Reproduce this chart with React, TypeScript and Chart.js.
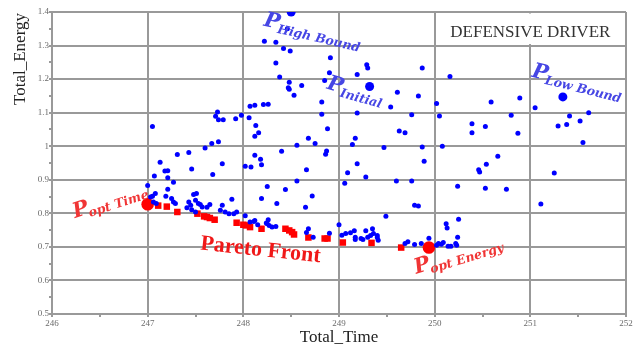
import React, { useEffect, useRef } from 'react';
import { Chart, registerables } from 'chart.js';

Chart.register(...registerables);

// ---------- data ----------
const blueX = [
  248.46, 248.22, 248.34, 248.42, 248.49, 248.91, 248.34, 248.90, 248.38, 248.85, 248.48, 248.61, 248.47, 248.48, 248.53, 248.82,
  249.29, 249.30, 249.19, 249.61, 249.83, 249.54, 249.19, 249.76, 249.87, 250.16, 250.02, 250.59, 250.89, 251.05, 251.61, 251.41,
  251.52, 251.38, 251.29, 251.55, 250.80, 250.87, 250.05, 250.39, 250.39, 250.53, 249.63, 249.69, 249.87, 250.08, 249.89, 250.66,
  250.54, 250.47, 250.46, 251.25, 250.24, 250.53, 250.75, 251.11, 250.12, 250.13, 250.25, 250.24,
  247.05, 247.73, 247.71, 247.74, 247.79, 247.92, 247.98, 248.07, 248.12, 248.21, 248.26, 248.06, 248.82, 248.13, 248.16, 248.12,
  248.88, 248.68, 248.75, 248.56, 248.40, 248.87, 248.86, 249.17, 249.14, 249.47, 247.74, 247.67, 247.60, 247.43, 247.31, 247.13,
  247.18, 247.21, 247.46, 247.07, 247.68, 247.78, 248.12, 248.18, 248.19, 248.02, 248.08, 248.66, 249.19, 249.09, 249.28, 249.06,
  249.60, 249.76, 249.79, 249.83, 249.49, 248.25, 248.19, 248.35, 248.44, 248.56, 248.72, 248.65, 247.88, 247.21, 247.27, 247.00,
  247.21, 247.19, 247.08, 247.05, 247.03, 247.25, 247.27, 247.29, 247.06, 247.09, 247.48, 247.51, 247.50, 247.43, 247.45, 247.53,
  247.55, 247.57, 247.41, 247.46, 247.50, 247.65, 247.62, 247.78, 247.76, 247.81, 247.85, 247.90, 247.93, 248.02, 248.07, 248.11,
  248.12, 248.15, 248.24, 248.26, 248.27, 248.25, 248.30, 248.34, 248.68, 248.66, 248.73, 248.90, 249.00,
  249.03, 249.07, 249.12, 249.16, 249.17, 249.17, 249.23, 249.25, 249.28, 249.30, 249.33, 249.35, 249.36, 249.40, 249.41, 249.40,
  249.69, 249.72, 249.79, 249.86, 249.94, 250.04, 250.09, 250.02, 250.07, 250.14, 250.17, 250.22, 250.23,
];
const blueY = [
  1.350, 1.313, 1.310, 1.291, 1.284, 1.264, 1.248, 1.219, 1.206, 1.196, 1.191, 1.181, 1.174, 1.170, 1.152, 1.132,
  1.243, 1.233, 1.214, 1.161, 1.150, 1.117, 1.099, 1.094, 1.233, 1.208, 1.127, 1.132, 1.144, 1.115, 1.100, 1.090,
  1.075, 1.065, 1.060, 1.011, 1.092, 1.039, 1.090, 1.067, 1.040, 1.059, 1.045, 1.040, 0.998, 1.000, 0.955, 0.970,
  0.946, 0.923, 0.930, 0.920, 0.881, 0.875, 0.872, 0.828, 0.769, 0.756, 0.782, 0.729,
  1.059, 1.102, 1.089, 1.079, 1.079, 1.082, 1.092, 1.119, 1.122, 1.124, 1.125, 1.085, 1.095, 1.062, 1.040, 1.030,
  1.052, 1.024, 1.008, 1.003, 0.985, 0.986, 0.976, 1.024, 1.005, 0.996, 1.013, 1.008, 0.995, 0.981, 0.975, 0.952,
  0.926, 0.927, 0.932, 0.911, 0.916, 0.948, 0.973, 0.961, 0.945, 0.940, 0.938, 0.930, 0.948, 0.921, 0.908, 0.890,
  0.896, 0.896, 0.824, 0.822, 0.791, 0.880, 0.844, 0.829, 0.871, 0.896, 0.852, 0.818, 0.842, 0.906, 0.893, 0.883,
  0.872, 0.851, 0.859, 0.851, 0.849, 0.844, 0.834, 0.829, 0.834, 0.829, 0.856, 0.859, 0.839, 0.834, 0.824, 0.829,
  0.826, 0.819, 0.817, 0.811, 0.804, 0.826, 0.818, 0.824, 0.809, 0.804, 0.799, 0.799, 0.804, 0.793, 0.774, 0.776,
  0.779, 0.766, 0.771, 0.781, 0.764, 0.769, 0.759, 0.761, 0.754, 0.743, 0.729, 0.741, 0.766,
  0.735, 0.740, 0.742, 0.748, 0.729, 0.722, 0.725, 0.722, 0.748, 0.729, 0.734, 0.754, 0.740, 0.734, 0.720, 0.728,
  0.710, 0.715, 0.707, 0.710, 0.726, 0.710, 0.713, 0.705, 0.708, 0.702, 0.702, 0.710, 0.705,
];

const paretoX = [
  247.11, 247.20, 247.31, 247.52, 247.59, 247.62, 247.65, 247.70, 247.93, 248.00, 248.03, 248.07,
  248.19, 248.44, 248.48, 248.51, 248.53, 248.68, 248.85, 248.88, 249.04, 249.34, 249.65,
];
const paretoY = [
  0.823, 0.820, 0.804, 0.799, 0.791, 0.789, 0.786, 0.781, 0.772, 0.766, 0.764, 0.759,
  0.754, 0.754, 0.749, 0.744, 0.737, 0.728, 0.725, 0.725, 0.713, 0.712, 0.698,
];

// special points
const boundX = [248.5, 249.32, 251.34];
const boundY = [1.4, 1.178, 1.147];
const optX = [247.0, 249.94];
const optY = [0.827, 0.698];

// annotation labels (anchors in data units)
const labelSubs = ['High Bound', 'Initial', 'Low Bound', 'opt Time', 'opt Energy'];
const labelX = [248.30, 248.96, 251.10, 246.30, 249.87];
const labelY = [1.370, 1.181, 1.218, 0.809, 0.642];
const labelAngle = [13, 16, 14, -18, -17];
const labelRed = [false, false, false, true, true];

const frontText = 'Pareto Front';
const frontX = 248.18;
const frontY = 0.69;
const frontAngle = 6;

const boxTitle = 'DEFENSIVE DRIVER';
const boxXRange = [250, 252];
const boxYRange = [1.3, 1.4];

const xTitle = 'Total_Time';
const yTitle = 'Total_Energy';
const xMin = 246, xMax = 252, xStep = 0.5;
const yMin = 0.5, yMax = 1.4, yStep = 0.05;

// ---------- helpers ----------
const GRID = '#999999';
const isMajorX = (v: number) => Math.abs(v - Math.round(v)) < 1e-6;
const isMajorY = (v: number) => Math.abs(v * 10 - Math.round(v * 10)) < 1e-6;

const pts = (xs: number[], ys: number[]) => xs.map((x, i) => ({ x, y: ys[i] }));

const overlay = {
  id: 'overlay',
  beforeDatasetsDraw(chart: any) {
    const { ctx, scales } = chart;
    const x = scales.x, y = scales.y;
    const l = x.getPixelForValue(boxXRange[0]) + 1.5;
    const r = x.getPixelForValue(boxXRange[1]) - 1.5;
    const t = y.getPixelForValue(boxYRange[1]) + 1.5;
    const b = y.getPixelForValue(boxYRange[0]) - 1.5;
    ctx.save();
    ctx.fillStyle = '#ffffff';
    ctx.fillRect(l, t, r - l, b - t);
    ctx.fillStyle = '#333333';
    ctx.font = '17px "Liberation Serif", "Times New Roman", serif';
    ctx.textAlign = 'center';
    ctx.textBaseline = 'alphabetic';
    ctx.fillText(boxTitle, (l + r) / 2, t + (b - t) * 0.76);
    ctx.restore();
  },
  afterDraw(chart: any) {
    const { ctx, scales, chartArea } = chart;
    const x = scales.x, y = scales.y;
    ctx.save();
    // axis titles
    ctx.fillStyle = '#222222';
    ctx.font = '17px "Liberation Serif", "Times New Roman", serif';
    ctx.textAlign = 'center';
    ctx.textBaseline = 'alphabetic';
    ctx.fillText(xTitle, (chartArea.left + chartArea.right) / 2, 342);
    ctx.save();
    ctx.translate(25, 59);
    ctx.rotate(-Math.PI / 2);
    ctx.fillText(yTitle, 0, 0);
    ctx.restore();

    // P labels
    for (let i = 0; i < labelSubs.length; i++) {
      const px = x.getPixelForValue(labelX[i]);
      const py = y.getPixelForValue(labelY[i]);
      ctx.save();
      ctx.translate(px, py);
      ctx.rotate((labelAngle[i] * Math.PI) / 180);
      ctx.fillStyle = labelRed[i] ? '#f03535' : '#4646e4';
      ctx.font = 'italic bold 21px "DejaVu Serif", serif';
      ctx.textAlign = 'center';
      ctx.textBaseline = 'middle';
      const pw = ctx.measureText('P').width;
      ctx.fillText('P', 0, 0);
      ctx.font = 'italic bold 12.5px "DejaVu Serif", serif';
      ctx.textAlign = 'left';
      ctx.fillText(labelSubs[i], pw / 2 - 1, 6);
      ctx.restore();
    }

    // Pareto front label
    {
      const px = x.getPixelForValue(frontX);
      const py = y.getPixelForValue(frontY);
      ctx.save();
      ctx.translate(px, py);
      ctx.rotate((frontAngle * Math.PI) / 180);
      ctx.fillStyle = '#f01818';
      ctx.font = 'bold 22px "Liberation Serif", "Times New Roman", serif';
      ctx.textAlign = 'center';
      ctx.textBaseline = 'middle';
      ctx.fillText(frontText, 0, 0);
      ctx.restore();
    }
    ctx.restore();
  },
};

export default function App() {
  const ref = useRef<HTMLCanvasElement | null>(null);

  useEffect(() => {
    if (!ref.current) return;
    const chart = new Chart(ref.current, {
      type: 'scatter',
      data: {
        datasets: [
          {
            label: 'solutions',
            data: pts(blueX, blueY),
            backgroundColor: '#0000ff',
            borderWidth: 0,
            pointRadius: 2.5,
            pointStyle: 'circle',
          },
          {
            label: 'Pareto',
            data: pts(paretoX, paretoY),
            backgroundColor: '#ff0000',
            borderWidth: 0,
            pointRadius: 4.6,
            pointStyle: 'rect',
          },
          {
            label: 'bounds',
            data: pts(boundX, boundY),
            backgroundColor: '#0000ff',
            borderWidth: 0,
            pointRadius: 4.5,
            pointStyle: 'circle',
          },
          {
            label: 'optima',
            data: pts(optX, optY),
            backgroundColor: '#ff0000',
            borderWidth: 0,
            pointRadius: 6.3,
            pointStyle: 'circle',
          },
        ],
      },
      options: {
        animation: false,
        responsive: true,
        maintainAspectRatio: false,
        events: [],
        layout: { padding: { top: 12, right: 12, left: 0, bottom: 0 } },
        plugins: {
          legend: { display: false },
          tooltip: { enabled: false },
        },
        scales: {
          x: {
            type: 'linear',
            min: xMin,
            max: xMax,
            afterFit: (s: any) => { s.height = 35; },
            ticks: {
              stepSize: xStep,
              autoSkip: false,
              maxRotation: 0,
              padding: 1,
              color: '#6a6a6a',
              font: { family: '"Liberation Serif", serif', size: 9 },
              callback: (v: any) => (isMajorX(Number(v)) ? String(Math.round(Number(v))) : ''),
            },
            grid: {
              color: (c: any) => (c.tick && isMajorX(c.tick.value) ? GRID : 'rgba(0,0,0,0)'),
              lineWidth: 2,
              tickColor: GRID,
              tickLength: 3,
              drawTicks: true,
            },
            border: { display: true, color: GRID, width: 2 },
          },
          y: {
            type: 'linear',
            min: yMin,
            max: yMax,
            afterFit: (s: any) => { s.width = 52; },
            ticks: {
              stepSize: yStep,
              autoSkip: false,
              padding: 0,
              color: '#6a6a6a',
              font: { family: '"Liberation Serif", serif', size: 9 },
              callback: (v: any) => (isMajorY(Number(v)) ? String(Math.round(Number(v) * 10) / 10) : ''),
            },
            grid: {
              color: (c: any) => (c.tick && isMajorY(c.tick.value) ? GRID : 'rgba(0,0,0,0)'),
              lineWidth: 2,
              tickColor: GRID,
              tickLength: 3,
              drawTicks: true,
            },
            border: { display: true, color: GRID, width: 2 },
          },
        },
      },
      plugins: [overlay],
    });
    return () => chart.destroy();
  }, []);

  return (
    <div style={{ position: 'fixed', left: 0, top: 0, width: 638, height: 349, background: '#fff' }}>
      <canvas ref={ref} />
    </div>
  );
}
